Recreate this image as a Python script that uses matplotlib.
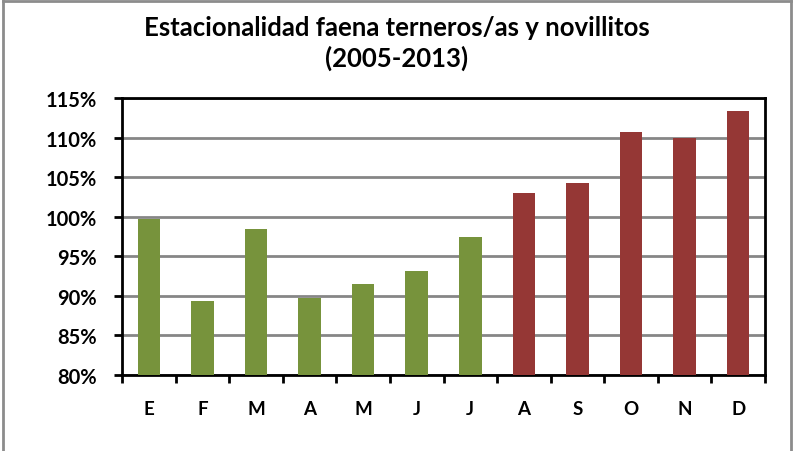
import matplotlib.pyplot as plt
from matplotlib.lines import Line2D

meses = ["E", "F", "M", "A", "M", "J", "J", "A", "S", "O", "N", "D"]
estacionalidad = [99.7, 89.3, 98.4, 89.7, 91.5, 93.2, 97.4, 103.0, 104.3, 110.7, 109.9, 113.3]
colores = ["#77933C"] * 7 + ["#953735"] * 5
y_ticks = [80, 85, 90, 95, 100, 105, 110, 115]

plt.rcParams['font.family'] = ['Lato', 'DejaVu Sans']

fig = plt.figure(figsize=(7.94, 4.52), dpi=100)
ax = fig.add_axes([122 / 794, 1 - 376 / 452, (765 - 122) / 794, (376 - 99) / 452])

x = list(range(len(meses)))
ax.bar(x, [v - 80 for v in estacionalidad], bottom=80, width=0.42, color=colores, zorder=3)

ax.set_xlim(-0.5, len(meses) - 0.5)
ax.set_ylim(80, 115)
ax.set_yticks(y_ticks)
ax.set_yticklabels([f"{t}%" for t in y_ticks], fontsize=14.5, fontweight="bold")
ax.yaxis.grid(True, color="#868686", linewidth=2, zorder=0)

# etiquetas de meses centradas, ticks en los limites de cada categoria
ax.set_xticks([i + 0.5 for i in range(-1, len(meses))])
ax.set_xticklabels([])
ax.set_xticks(x, minor=True)
ax.set_xticklabels(meses, minor=True, fontsize=13.5, fontweight="bold")
ax.tick_params(axis="x", which="minor", length=0, pad=18)
ax.tick_params(axis="x", which="major", length=6, width=2, direction="out")
ax.tick_params(axis="y", length=6, width=2, direction="out", pad=12)

for s in ax.spines.values():
    s.set_linewidth(2)
    s.set_color("black")

fig.text(0.5, 1 - 28 / 452, "Estacionalidad faena terneros/as y novillitos",
         ha="center", va="center", fontsize=18.5, fontweight="bold")
fig.text(0.5, 1 - 58 / 452, "(2005-2013)", ha="center", va="center",
         fontsize=18.5, fontweight="bold")

# marco gris alrededor de la figura
for xs, ys in [([0.004, 0.004], [0, 0.995]), ([0.004, 0.996], [0.995, 0.995]), ([0.996, 0.996], [0, 0.995])]:
    fig.add_artist(Line2D(xs, ys, color="#8c8c8c", linewidth=2, transform=fig.transFigure))

fig.savefig("out.png", dpi=100)
